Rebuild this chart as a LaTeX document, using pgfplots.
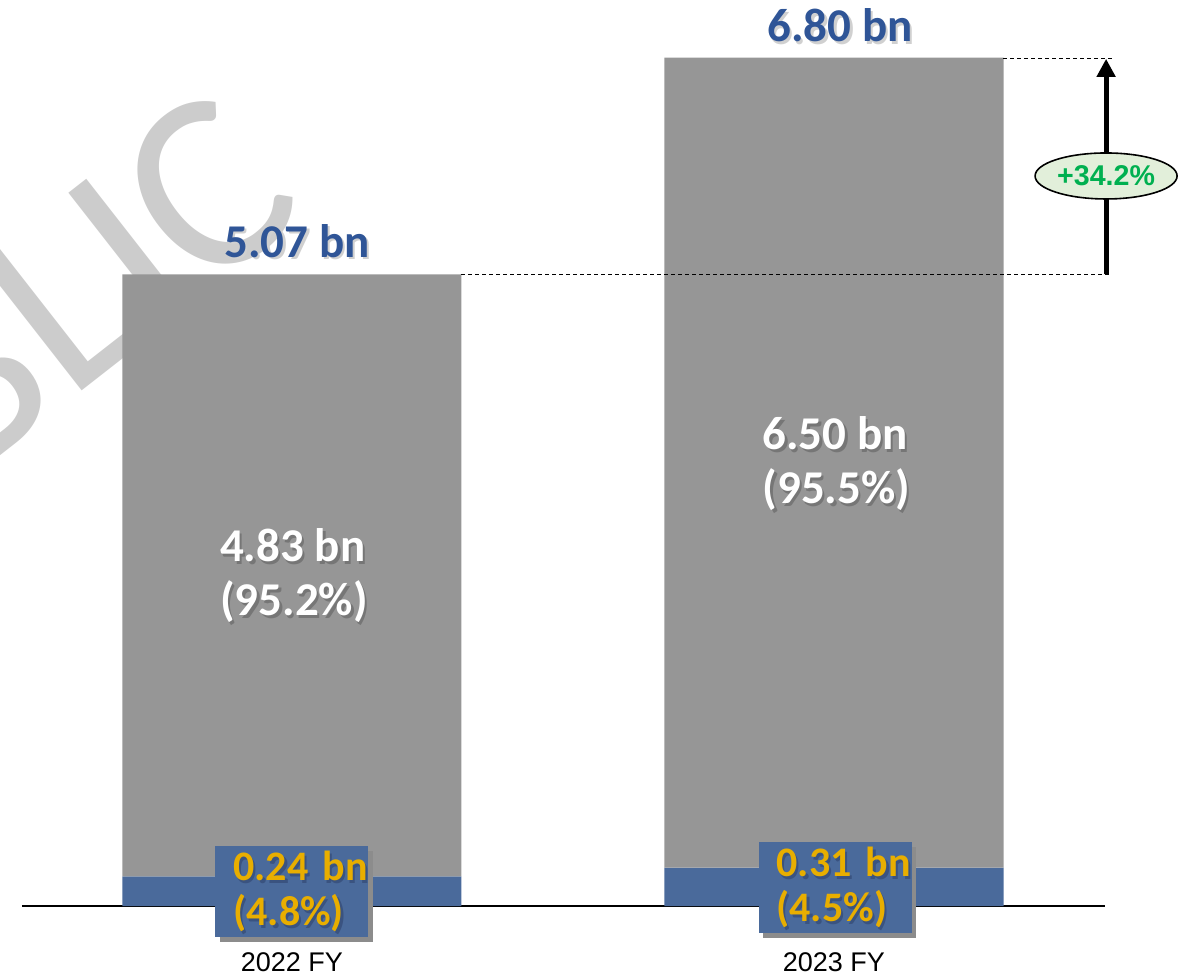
\documentclass[border=0pt]{standalone}
\usepackage{fontspec}
\setmainfont{Carlito}
\newfontfamily\tickfont{Liberation Sans}
\newfontfamily\arialfont{Liberation Sans}
\usepackage{pgfplots}
\pgfplotsset{compat=1.18}
\usetikzlibrary{arrows.meta,shapes.geometric}
\definecolor{barblue}{HTML}{4A6A9B}
\definecolor{bargray}{HTML}{969696}
\definecolor{titleblue}{HTML}{2F5597}
\definecolor{gold}{HTML}{E8AE00}
\definecolor{pctgreen}{HTML}{00B050}
\definecolor{ellfill}{HTML}{E2EFDA}
\definecolor{wm}{HTML}{CCCCCC}
\definecolor{shwhite}{HTML}{D0D0D0}
\definecolor{shgray}{HTML}{767676}
\definecolor{shblue}{HTML}{3A5380}
\definecolor{boxshadow}{HTML}{8C8C8C}
\tikzset{boxsty/.style={inner xsep=0pt, inner ysep=0pt, text width=76.5pt, minimum height=45.5pt, align=left, font=\bfseries\fontsize{21}{22.5}\selectfont}}
\newcommand{\lbl}[4]{%
  \node[#2, text=#4, xshift=1.2pt, yshift=-1.2pt] at (#1) {#3};
  \node[#2] at (#1) {#3};}
\newcommand{\boxlbl}[2]{%
  \node[boxsty, fill=boxshadow, text=boxshadow, xshift=2.2pt, yshift=-2.2pt] at (#1) {#2};
  \node[boxsty, fill=barblue, text=barblue] at (#1) {#2};
  \node[boxsty, text=shblue, xshift=1.2pt, yshift=-1.2pt] at (#1) {#2};
  \node[boxsty, text=gold] at (#1) {#2};}
\begin{document}
\begin{tikzpicture}
\useasboundingbox (-11pt,-35.5pt) rectangle (582pt,453.1pt);
\node[overlay, rotate=38, anchor=base west, inner sep=0pt, text=wm, font=\fontsize{128}{128}\selectfont] at (23pt,252pt) {LIC};
\node[overlay, rotate=38, anchor=base east, inner sep=0pt, text=wm, font=\fontsize{128}{128}\selectfont] at (23pt,252pt) {PUB};
\begin{axis}[
  at={(0pt,0pt)}, anchor=south west,
  width=541.5pt, height=448.6pt, scale only axis,
  xmin=-0.498, xmax=1.5, ymin=0, ymax=7.2,
  ybar stacked, reverse stacked plots=false, bar width=0.6255,
  axis x line=bottom, axis y line=none,
  x axis line style={-, line width=0.8pt, black},
  xtick={0,1}, xticklabels={2022 FY,2023 FY},
  major tick length=0pt,
  xticklabel style={font=\tickfont\fontsize{13.5}{15}\selectfont, inner sep=0pt, anchor=north, yshift=-23pt},
  clip=false,
]
\addplot[fill=barblue, draw=none] coordinates {(0,0.24) (1,0.31)};
\addplot[fill=bargray, draw=none] coordinates {(0,4.83) (1,6.50)};

\lbl{axis cs:0,5.206}{anchor=base, inner sep=0pt, xshift=2.5pt, text=titleblue, font=\bfseries\fontsize{23.5}{27}\selectfont}{5.07 bn}{shwhite}
\lbl{axis cs:1,6.936}{anchor=base, inner sep=0pt, xshift=3pt, text=titleblue, font=\bfseries\fontsize{23.5}{27}\selectfont}{6.80 bn}{shwhite}

\lbl{axis cs:0,2.65}{align=left, inner sep=0pt, xshift=1pt, text=white, font=\bfseries\fontsize{23.5}{27}\selectfont}{4.83 bn\\(95.2\%)}{shgray}
\lbl{axis cs:1,3.55}{align=left, inner sep=0pt, xshift=1.2pt, text=white, font=\bfseries\fontsize{23.5}{27}\selectfont}{6.50 bn\\(95.5\%)}{shgray}

\boxlbl{axis cs:0,0.116}{\hspace*{9pt}0.24 bn\\\hspace*{9pt}(4.8\%)}
\boxlbl{axis cs:1.002,0.148}{\hspace*{9pt}0.31 bn\\\hspace*{9pt}(4.5\%)}

\draw[line width=0.5pt, dash pattern=on 2pt off 1.5pt] (axis cs:0.3127,5.07) -- (axis cs:1.513,5.07);
\draw[line width=0.5pt, dash pattern=on 2pt off 1.5pt] (axis cs:1.3127,6.80) -- (axis cs:1.513,6.80);
\draw[line width=2.5pt, -{Triangle[length=9pt,width=9pt]}] (axis cs:1.502,5.07) -- (axis cs:1.502,6.80);
\node[ellipse, draw=black, line width=0.8pt, fill=ellfill, minimum width=71pt, minimum height=23pt, inner sep=0pt, text=pctgreen, font=\arialfont\bfseries\fontsize{14.3}{16}\selectfont] at (axis cs:1.502,5.86) {+34.2\%};
\end{axis}
\end{tikzpicture}
\end{document}
